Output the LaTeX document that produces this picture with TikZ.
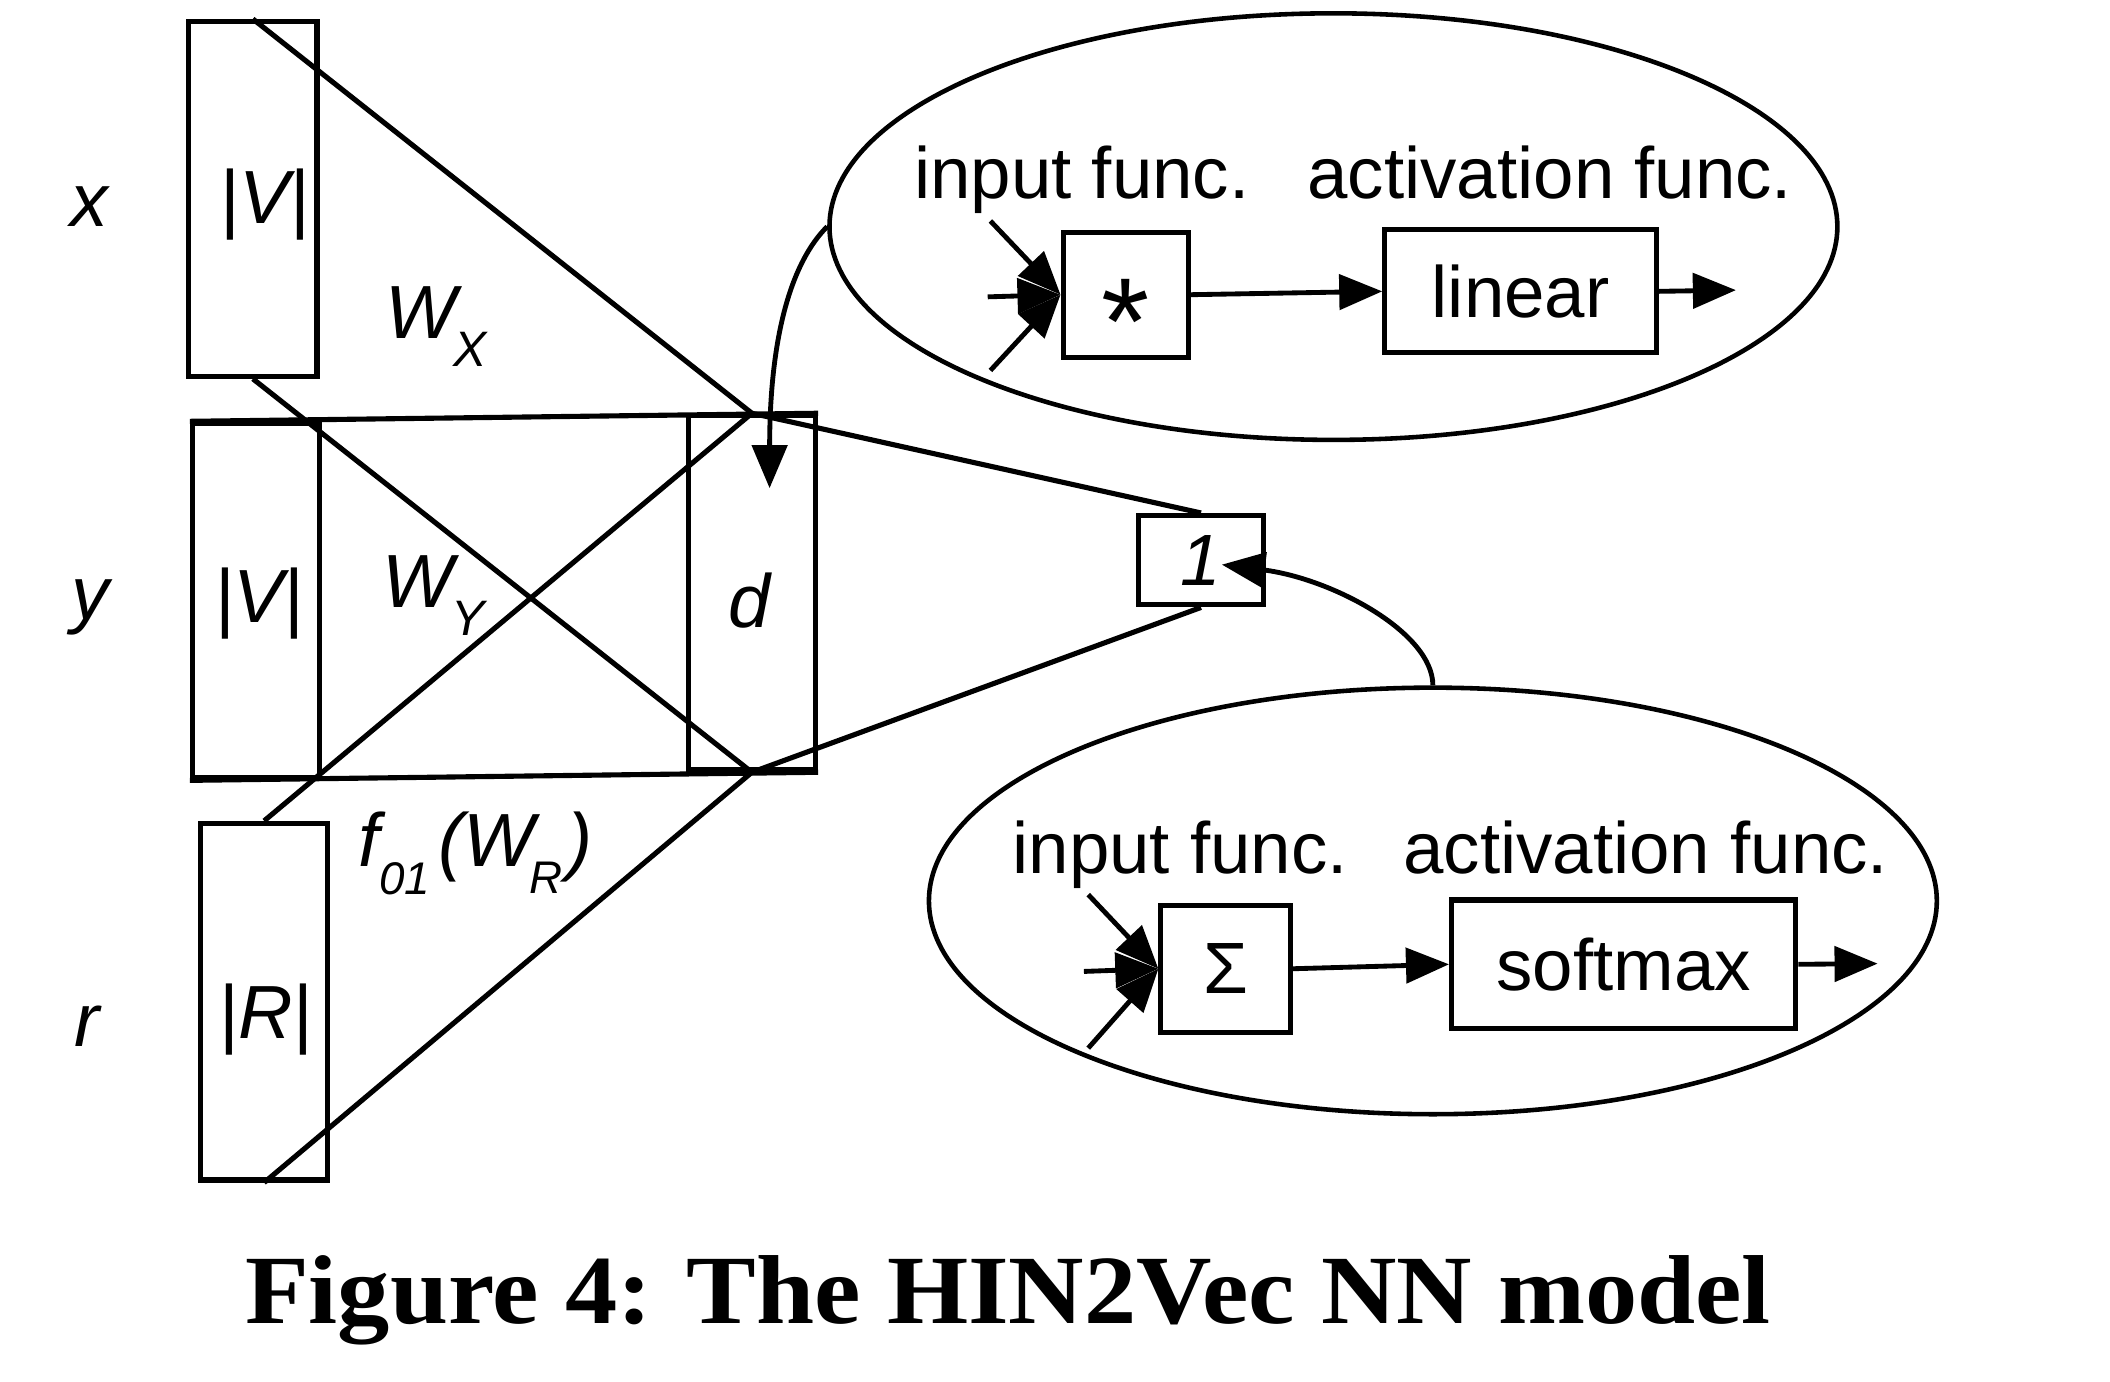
\documentclass[tikz,border=0pt]{standalone}
\usepackage{fontspec}
\usepackage{graphicx}
\setmainfont{Liberation Serif}
\newfontfamily\dsans{Liberation Sans}
\usetikzlibrary{arrows.meta,shapes.geometric}
\begin{document}
\begin{tikzpicture}[x=0.5pt,y=-0.5pt,
  blk/.style={draw,line width=1.9pt,inner sep=0pt,rectangle,font=\dsans\fontsize{27}{27}\selectfont},
  ell/.style={draw,ellipse,line width=1.7pt,inner sep=0pt,minimum width=374.5pt,minimum height=158.5pt},
  conn/.style={line width=1.9pt},
  arr/.style={line width=1.8pt,-{Triangle[length=16pt,width=13pt]}},
  lbl/.style={font=\dsans\itshape\fontsize{28}{28}\selectfont,inner sep=0pt,anchor=base},
  txt/.style={font=\dsans\fontsize{27}{27}\selectfont,inner sep=0pt,anchor=base}]
\useasboundingbox (0,0) rectangle (1568,1027);

% ellipses
\node[ell] (topell) at (990.9,168.4) {};
\node[ell] (botell) at (1064.8,669.5) {};

% boxes
\node[blk,minimum width=47.7pt,minimum height=131.8pt] (xbox) at (187.9,147.8) {};
\node[blk,minimum width=47.3pt,minimum height=131.5pt] (ybox) at (190.3,446.5) {};
\node[blk,minimum width=47.25pt,minimum height=131.5pt] (dbox) at (558.75,440.5) {};
\node[blk,minimum width=47.35pt,minimum height=132.5pt] (rbox) at (196.3,744.4) {};
\node[blk,minimum width=46.6pt,minimum height=33.2pt,font=\dsans\itshape\fontsize{27}{27}\selectfont] (onebox) at (892.5,416.3) {1};
\node[blk,minimum width=46.6pt,minimum height=46.4pt] (starbox) at (836.6,219) {};
\node[blk,minimum width=100.9pt,minimum height=45.7pt] (linbox) at (1130,216.5) {linear};
\node[blk,minimum width=48.1pt,minimum height=47.1pt] (sigbox) at (910.8,719.9) {Σ};
\node[blk,minimum width=127.9pt,minimum height=47.8pt] (softbox) at (1206.6,716.6) {softmax};

% trapezoid and projection lines
\draw[conn] (ybox.north west) -- (dbox.north east);
\draw[conn] (ybox.south west) -- (dbox.south east);
\draw[conn] (xbox.north) -- (dbox.north);
\draw[conn] (xbox.south) -- (dbox.south);
\draw[conn] (rbox.north) -- (dbox.north);
\draw[conn] (rbox.south) -- (dbox.south);
\draw[conn] (dbox.north) -- (onebox.north);
\draw[conn] (dbox.south) -- (onebox.south);

% star
\node[font=\dsans\fontsize{46}{46}\selectfont,inner sep=0pt,anchor=base] (star) at (836.6,271) {*};

% arrows in top ellipse
\coordinate (in1) at (736,164.2);
\coordinate (in2) at (734,220.6);
\coordinate (in3) at (736,275.3);
\draw[arr] (in1) -- (starbox.west);
\draw[arr] (in2) -- (starbox.west);
\draw[arr] (in3) -- (starbox.west);
\draw[arr] (starbox.east) -- (linbox.west);
\coordinate (out1) at (1290,215.6);
\draw[arr] (linbox.east) -- (out1);

% arrows in bottom ellipse
\coordinate (in4) at (808.7,664.8);
\coordinate (in5) at (805.5,721.9);
\coordinate (in6) at (808.7,778.9);
\draw[arr] (in4) -- (sigbox.west);
\draw[arr] (in5) -- (sigbox.west);
\draw[arr] (in6) -- (sigbox.west);
\draw[arr] (sigbox.east) -- (softbox.west);
\coordinate (out2) at (1395.3,716.1);
\draw[arr] (softbox.east) -- (out2);

% curved arrows
\coordinate (dtip) at (571.9,362.8);
\draw[arr] (topell.west) .. controls (588,195) and (572,250) .. (dtip);
\coordinate (onetip) at (908,419.6);
\draw[arr] (botell.north) .. controls (1064.8,470) and (990,430) .. (onetip);

% labels
\node[lbl] (lx) at (66.5,168) {x};
\node[lbl] (ly) at (67.5,460) {y};
\node[lbl] (lr) at (64.5,778) {r};
\node[lbl] (vx) at (196.3,166.2) {|V|};
\node[lbl] (vy) at (192.3,462.8) {|V|};
\node[lbl] (dl) at (556.8,466.6) {d};
\node[lbl] (rl) at (197.3,771.5) {|R|};
\node[lbl,anchor=base west] (wx) at (286,251.2) {W\kern-1pt\raisebox{-10.4pt}{\fontsize{18.5}{18.5}\selectfont X}};
\node[lbl,anchor=base west] (wy) at (284,451.5) {W\kern-1pt\raisebox{-10.4pt}{\fontsize{18.5}{18.5}\selectfont Y}};
\node[lbl,anchor=base west] (fw) at (266,644) {f\raisebox{-10.5pt}{\fontsize{17}{17}\selectfont 01}\kern3pt(W\kern-2pt\raisebox{-10pt}{\fontsize{17}{17}\selectfont R}\kern2pt)};

% ellipse texts
\node[txt] (if1) at (804,147.6) {input func.};
\node[txt] (af1) at (1151.7,147.6) {activation func.};
\node[txt] (if2) at (877,648.9) {input func.};
\node[txt] (af2) at (1223,648.9) {activation func.};

% caption
\node[anchor=base,inner sep=0pt] (cap) at (749,983.2) {\scalebox{1.066}[1]{\fontsize{36.4}{40}\selectfont\bfseries Figure 4: The HIN2Vec NN model}};
\end{tikzpicture}
\end{document}
